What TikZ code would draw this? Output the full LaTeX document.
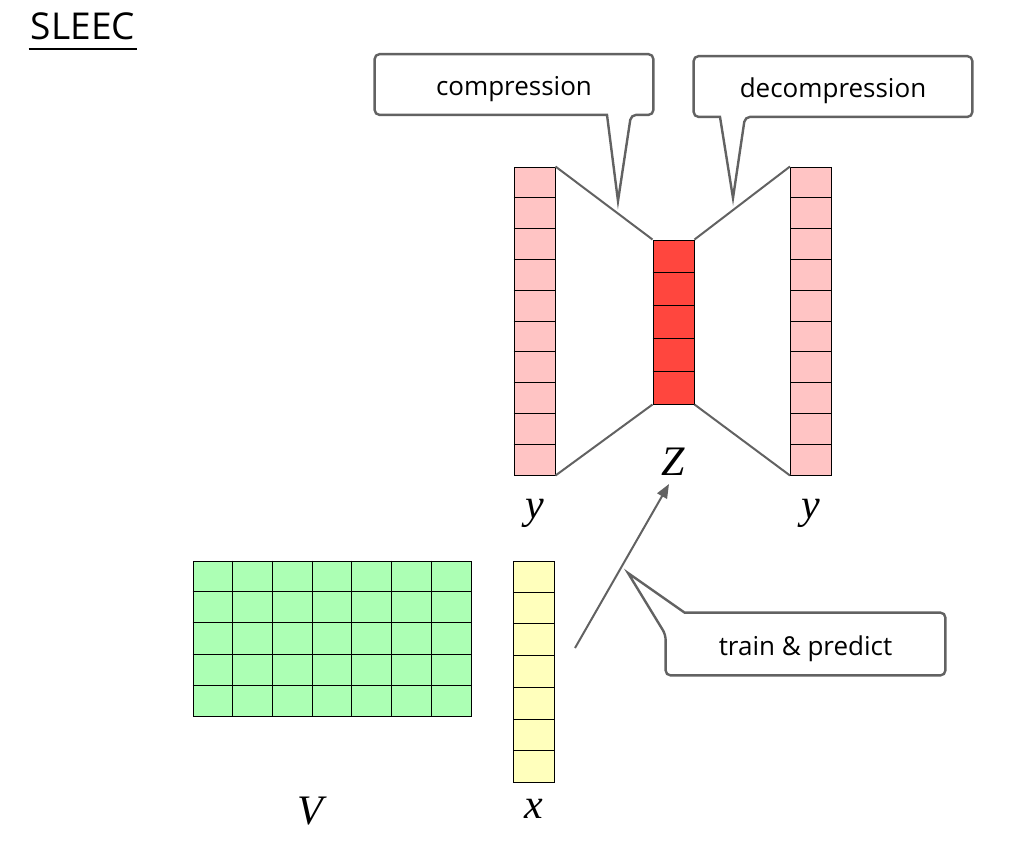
\documentclass[tikz,border=0pt]{standalone}
\usepackage{fontspec}
\setmainfont{Open Sans}
\newfontfamily\labelserif{Liberation Serif}
\usetikzlibrary{positioning,calc,arrows.meta}
\definecolor{cellpink}{RGB}{255,196,196}
\definecolor{codered}{RGB}{255,70,62}
\definecolor{matgreen}{RGB}{172,255,180}
\definecolor{featyellow}{RGB}{255,255,188}
\definecolor{linegray}{RGB}{98,98,98}
\tikzset{
    column/.style={rectangle, draw=black, line width=0.5pt, inner sep=0pt, minimum width=20.5pt},
    pinkcol/.style={column, fill=cellpink, minimum height=154pt},
    codecol/.style={column, fill=codered, minimum height=82pt},
    featcol/.style={column, fill=featyellow, minimum height=110.5pt},
    matbox/.style={rectangle, draw=black, line width=0.5pt, fill=matgreen, inner sep=0pt, minimum width=139pt, minimum height=77.5pt},
    cell/.style={draw=black, line width=0.5pt},
    funnel/.style={draw=linegray, line width=1pt},
    line/.style={draw=linegray, line width=1pt, -{Triangle[length=7pt,width=5.5pt]}},
    bubble/.style={rectangle, inner sep=0pt, minimum width=139pt, minimum height=30pt, text height=13pt, text depth=2pt, font=\fontsize{13}{15}\selectfont},
    bubbleline/.style={draw=linegray, line width=1.2pt, rounded corners=2.5pt},
    mathlabel/.style={inner sep=0pt, font=\labelserif\itshape\fontsize{21}{24}\selectfont},
    titletext/.style={inner xsep=1pt, inner ysep=0pt, font=\fontsize{18.5}{22}\selectfont},
    titleline/.style={draw=black, line width=1pt}
}
\begin{document}
\begin{tikzpicture}[x=0.5pt, y=-0.5pt]
    \useasboundingbox (0,0) rectangle (1024,843);

    % title
    \node [titletext, anchor=base] (title) at (83,39) {SLEEC};
    \path [titleline] ([yshift=-5pt]title.base west) -- ([yshift=-5pt]title.base east);

    % autoencoder
    \node [pinkcol] (yin) at (534.5,321) {};
    \node [codecol] (zcode) at (673.5,322) {};
    \node [pinkcol] (yout) at (811,321) {};
    \foreach \i in {1,...,9} {
        \path [cell] ($(yin.north west)!\i/10!(yin.south west)$) -- ($(yin.north east)!\i/10!(yin.south east)$);
        \path [cell] ($(yout.north west)!\i/10!(yout.south west)$) -- ($(yout.north east)!\i/10!(yout.south east)$);
    }
    \foreach \i in {1,...,4}
        \path [cell] ($(zcode.north west)!\i/5!(zcode.south west)$) -- ($(zcode.north east)!\i/5!(zcode.south east)$);

    \path [funnel] (yin.north east) -- (zcode.north west);
    \path [funnel] (yin.south east) -- (zcode.south west);
    \path [funnel] (zcode.north east) -- (yout.north west);
    \path [funnel] (zcode.south east) -- (yout.south west);

    \node [mathlabel, below=11.5pt of yin] (yinlab) {y};
    \node [mathlabel, below=21.5pt of zcode] (zlab) {Z};
    \node [mathlabel, below=11.5pt of yout] (youtlab) {y};

    % features
    \node [matbox] (vmat) at (332,638.5) {};
    \foreach \i in {1,...,6}
        \path [cell] ($(vmat.north west)!\i/7!(vmat.north east)$) -- ($(vmat.south west)!\i/7!(vmat.south east)$);
    \foreach \i in {1,...,4}
        \path [cell] ($(vmat.north west)!\i/5!(vmat.south west)$) -- ($(vmat.north east)!\i/5!(vmat.south east)$);
    \node [featcol] (xvec) at (534,671.5) {};
    \foreach \i in {1,...,6}
        \path [cell] ($(xvec.north west)!\i/7!(xvec.south west)$) -- ($(xvec.north east)!\i/7!(xvec.south east)$);

    \node [mathlabel, below=40pt of vmat, xshift=-11pt] (vlab) {V};
    \node [mathlabel, below=8pt of xvec] (xlab) {x};

    \coordinate (trainfrom) at (575,648);
    \coordinate (trainto) at (669,484);
    \path [line] (trainfrom) -- (trainto);

    % callouts
    \node [bubble] (cmp) at (514,84.5) {compression};
    \coordinate (cmpb1) at ($(cmp.south)+(93,0)$);
    \coordinate (cmpb2) at ($(cmp.south)+(117,0)$);
    \coordinate (cmptip) at (618,201);
    \path [bubbleline] (cmp.north) -- (cmp.north east) -- (cmp.south east) -- (cmpb2) [sharp corners] -- (cmptip) -- (cmpb1) [rounded corners=2.5pt] -- (cmp.south west) -- (cmp.north west) -- cycle;

    \node [bubble] (dcmp) at (833,86.5) {decompression};
    \coordinate (dcmpb1) at ($(dcmp.south)+(-113,0)$);
    \coordinate (dcmpb2) at ($(dcmp.south)+(-88,0)$);
    \coordinate (dcmptip) at (733,198);
    \path [bubbleline] (dcmp.north) -- (dcmp.north east) -- (dcmp.south east) -- (dcmpb2) [sharp corners] -- (dcmptip) -- (dcmpb1) [rounded corners=2.5pt] -- (dcmp.south west) -- (dcmp.north west) -- cycle;

    \node [bubble, minimum width=139.5pt, minimum height=31pt] (tp) at (805.5,644) {train \& predict};
    \coordinate (tpb1) at ($(tp.north west)+(0,22)$);
    \coordinate (tpb2) at ($(tp.north west)+(19,0)$);
    \coordinate (tptip) at (628,573);
    \path [bubbleline] (tp.south) -- (tp.south west) -- (tpb1) [sharp corners] -- (tptip) -- (tpb2) [rounded corners=2.5pt] -- (tp.north east) -- (tp.south east) -- cycle;
\end{tikzpicture}
\end{document}
